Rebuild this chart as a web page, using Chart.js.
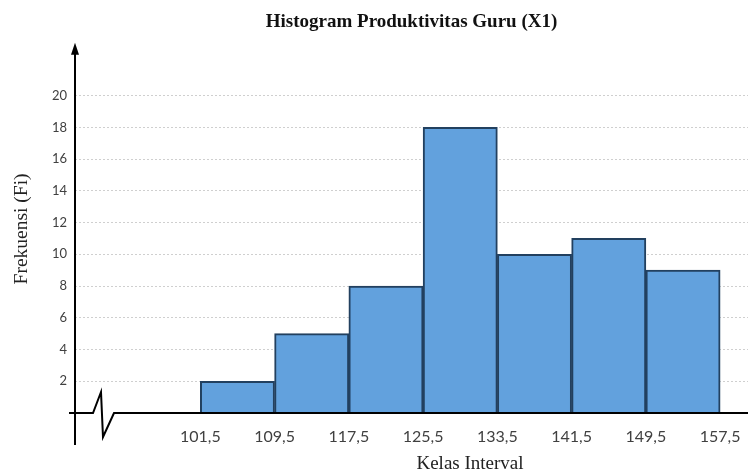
<!DOCTYPE html>
<html>
<head>
<meta charset="utf-8">
<script src="https://cdn.jsdelivr.net/npm/chart.js@4/dist/chart.umd.min.js"></script>
<style>
  html, body { margin: 0; padding: 0; background: #fff; }
  #wrap { width: 748px; height: 475px; }
</style>
</head>
<body>
<div id="wrap"><canvas id="histo"></canvas></div>
<script>
// class boundaries (tick labels) and frequency per class
var batasKelas = [101.5, 109.5, 117.5, 125.5, 133.5, 141.5, 149.5, 157.5];
var frekuensi = [2, 5, 8, 18, 10, 11, 9];
var yTicks = [2, 4, 6, 8, 10, 12, 14, 16, 18, 20];

var barData = frekuensi.map(function (f, i) {
    return { x: (batasKelas[i] + batasKelas[i + 1]) / 2, y: f };
});

function koma(v) {
    return v.toFixed(1).replace('.', ',');
}

// black axes with arrow, the axis-break zigzag and the x title
var sumbuPlugin = {
    id: 'sumbu',
    afterDatasetsDraw: function (chart) {
        var c = chart.ctx, a = chart.chartArea;
        var y0 = chart.scales.y.getPixelForValue(0);
        var xl = a.left;
        c.save();
        c.strokeStyle = '#000';
        c.lineWidth = 2;
        // x axis with a break
        c.beginPath();
        c.moveTo(xl - 6, y0);
        c.lineTo(xl + 18, y0);
        c.lineTo(xl + 26, y0 - 21);
        c.lineTo(xl + 28, y0 + 24);
        c.lineTo(xl + 39, y0);
        c.lineTo(chart.width, y0);
        c.stroke();
        // y axis
        c.beginPath();
        c.moveTo(xl, y0 + 32);
        c.lineTo(xl, a.top + 4);
        c.stroke();
        c.fillStyle = '#000';
        c.beginPath();
        c.moveTo(xl, a.top - 2);
        c.lineTo(xl - 4, a.top + 10);
        c.lineTo(xl + 4, a.top + 10);
        c.closePath();
        c.fill();
        // x title sits right of centre in the original
        c.fillStyle = '#222';
        c.font = '19px "Liberation Serif"';
        c.textAlign = 'center';
        c.textBaseline = 'middle';
        c.fillText('Kelas Interval', 470, y0 + 51);
        c.restore();
    }
};

var ctx = document.getElementById('histo').getContext('2d');
var myChart = new Chart(ctx, {
    type: 'bar',
    data: {
        datasets: [{
            data: barData,
            backgroundColor: 'rgb(98,161,221)',
            borderColor: '#22405f',
            borderWidth: 2,
            barPercentage: 1,
            categoryPercentage: 1
        }]
    },
    options: {
        responsive: true,
        maintainAspectRatio: false,
        animation: false,
        layout: { padding: 0 },
        plugins: {
            legend: { display: false },
            tooltip: { enabled: false },
            title: {
                display: true,
                fullSize: false,
                text: 'Histogram Produktivitas Guru (X1)',
                color: '#111',
                font: { family: 'Liberation Serif', size: 19, weight: 'bold' },
                padding: { top: 11, bottom: 11 }
            }
        },
        scales: {
            x: {
                type: 'linear',
                offset: false,
                min: 88,
                max: 160.5,
                afterBuildTicks: function (axis) {
                    axis.ticks = batasKelas.map(function (v) { return { value: v }; });
                },
                afterFit: function (scale) {
                    scale.height = 62;
                    scale.paddingLeft = 0;
                    scale.paddingRight = 0;
                },
                grid: { display: false, drawTicks: false },
                border: { display: false },
                ticks: {
                    autoSkip: false,
                    maxRotation: 0,
                    padding: 14,
                    color: '#404040',
                    font: { family: 'Lato', size: 16 },
                    callback: function (v) { return koma(v); }
                }
            },
            y: {
                min: 0,
                max: 23.2,
                afterBuildTicks: function (axis) {
                    axis.ticks = yTicks.map(function (v) { return { value: v }; });
                },
                afterFit: function (scale) {
                    scale.width = 75;
                },
                grid: { color: '#cfcfcf', lineWidth: 1, drawTicks: false },
                border: { display: false, dash: [2, 2] },
                ticks: {
                    padding: 8,
                    color: '#404040',
                    font: { family: 'Lato', size: 13 }
                },
                title: {
                    display: true,
                    text: 'Frekuensi (Fi)',
                    color: '#222',
                    font: { family: 'Liberation Serif', size: 19.5 },
                    padding: { top: 10, bottom: 8 }
                }
            }
        }
    },
    plugins: [sumbuPlugin]
});
</script>
</body>
</html>
